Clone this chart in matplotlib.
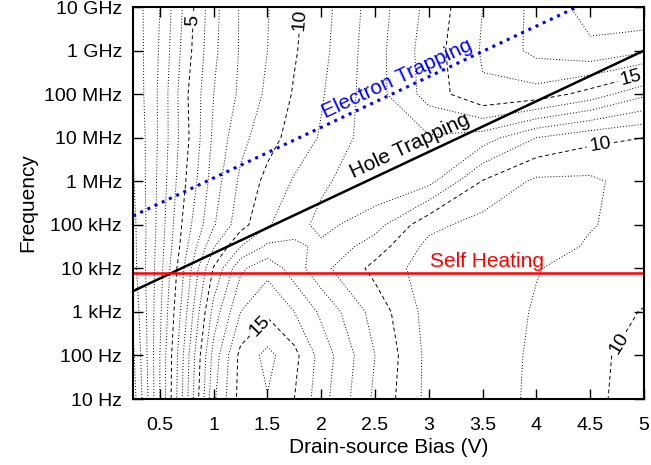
import numpy as np
import matplotlib
matplotlib.use('Agg')
import matplotlib.pyplot as plt

plt.rcParams['font.family'] = ['Liberation Sans', 'DejaVu Sans']

# grid of the measured map: bias (V) x log10(frequency / Hz)
bias = [0.25, 0.5, 0.75, 1.0, 1.25, 1.5, 1.75, 2.0, 2.5, 3.0, 3.5, 4.0, 4.5, 5.0]
log_freq = [1, 2, 3, 4, 4.5, 5, 6, 7, 8, 9, 10]

# values, one row per frequency (10 Hz ... 10 GHz)
z_10hz = [-1.5, 3.0, 7.8, 12.8, 15.4, 15.95, 15.0, 13.4, 10.8, 8.7, 8.4, 9.25, 9.8, 10.4]
z_100hz = [-1.2, 3.0, 7.6, 12.4, 15.3, 16.3, 15.3, 13.6, 11.0, 8.7, 8.4, 9.2, 9.8, 10.3]
z_1khz = [-0.8, 2.8, 7.0, 11.4, 14.0, 14.8, 14.0, 12.8, 10.6, 8.6, 8.4, 9.1, 9.6, 10.05]
z_10khz = [-0.4, 2.6, 6.4, 10.1, 12.8, 13.7, 12.5, 11.3, 9.7, 8.5, 8.3, 8.95, 9.4, 9.6]
z_30khz = [-0.35, 2.5, 5.9, 8.9, 11.0, 12.2, 12.2, 11.8, 10.5, 8.7, 8.4, 8.6, 9.1, 9.45]
z_100khz = [-0.3, 2.4, 5.6, 7.9, 9.6, 10.9, 11.6, 12.3, 11.4, 9.3, 8.6, 8.5, 8.95, 9.3]
z_1mhz = [-0.1, 2.3, 5.1, 7.5, 9.2, 10.3, 11.1, 11.8, 12.8, 12.3, 9.95, 8.8, 8.8, 9.5]
z_10mhz = [0.0, 2.2, 4.8, 7.2, 8.7, 9.6, 10.4, 11.1, 12.6, 12.9, 12.5, 11.0, 10.3, 10.0]
z_100mhz = [0.2, 2.2, 4.9, 7.0, 8.2, 9.2, 10.1, 10.9, 12.6, 14.4, 15.9, 15.6, 14.6, 13.2]
z_1ghz = [0.3, 2.1, 4.6, 6.8, 8.1, 9.0, 9.9, 10.7, 12.6, 14.5, 16.1, 17.3, 17.8, 17.2]
z_10ghz = [0.4, 2.0, 4.4, 6.7, 8.1, 8.95, 9.8, 10.6, 12.5, 14.3, 16.0, 17.3, 18.4, 18.9]

plain_levels = [-1, 0, 1, 2, 3, 4, 6, 7, 8, 9, 11, 12, 13, 14, 16, 17, 18]
label_levels = [5, 10, 15]
label_pos = [(0.81, 9.7), (1.83, 9.7), (4.87, 8.44), (4.59, 6.9), (1.46, 2.6), (4.78, 2.25)]

# trapping / heating lines (bias V, frequency Hz)
hole_v = [0.25, 5.0]
hole_f = [3.0e3, 1.0e9]
electron_v = [0.25, 5.0]
electron_f = [1.6e5, 5.3e10]
heating_v = [0.25, 5.0]
heating_f = [7.8e3, 7.8e3]

ytick_pos = [1, 2, 3, 4, 5, 6, 7, 8, 9, 10]
ytick_labels = ['10 Hz', '100 Hz', '1 kHz', '10 kHz', '100 kHz', '1 MHz',
                '10 MHz', '100 MHz', '1 GHz', '10 GHz']


def main():
    Z = np.array([z_10hz, z_100hz, z_1khz, z_10khz, z_30khz, z_100khz, z_1mhz,
                  z_10mhz, z_100mhz, z_1ghz, z_10ghz])
    V, F = np.meshgrid(bias, log_freq)

    fig = plt.figure(figsize=(6.51, 4.65), dpi=100)
    ax = fig.add_axes([0.2043, 0.1419, 0.7849, 0.843])

    ax.contour(V, F, Z, levels=plain_levels, colors='black',
               linewidths=0.7, linestyles=[(0, (1, 2))])
    cs = ax.contour(V, F, Z, levels=label_levels, colors='black',
                    linewidths=0.7, linestyles=[(0, (4, 3))])
    ax.clabel(cs, fontsize=14, inline=True, inline_spacing=3, fmt='%d',
              manual=label_pos)

    ax.plot(electron_v, np.log10(electron_f), color='#0000ff', lw=2.2,
            linestyle=(0, (1, 1.6)))
    ax.plot(hole_v, np.log10(hole_f), color='black', lw=1.8)
    ax.plot(heating_v, np.log10(heating_f), color='#ff0000', lw=1.8)

    ax.text(2.71, 8.35, 'Electron Trapping', color='#0000ff', fontsize=15,
            rotation=25, ha='center', va='center')
    ax.text(2.82, 6.8, 'Hole Trapping', color='black', fontsize=15,
            rotation=25, ha='center', va='center')
    ax.text(3.54, 4.15, 'Self Heating', color='#ff0000', fontsize=15,
            ha='center', va='center')

    ax.set_xlim(0.25, 5.0)
    ax.set_ylim(1, 10)
    ax.set_xticks(np.arange(0.5, 5.01, 0.5))
    ax.set_xticklabels(['0.5', '1', '1.5', '2', '2.5', '3', '3.5', '4', '4.5', '5'])
    ax.set_yticks(ytick_pos)
    ax.set_yticklabels(ytick_labels)
    ax.tick_params(direction='in', length=7, width=1, top=True, right=True,
                   labelsize=14)
    ax.tick_params(axis='x', pad=13)
    ax.tick_params(axis='y', pad=8)
    for s in ax.spines.values():
        s.set_linewidth(1.5)

    ax.set_xlabel('Drain-source Bias (V)', fontsize=15, labelpad=3)
    ax.set_ylabel('Frequency', fontsize=15, labelpad=5)

    fig.savefig('out.png', dpi=100)
    plt.close(fig)


if __name__ == '__main__':
    main()
